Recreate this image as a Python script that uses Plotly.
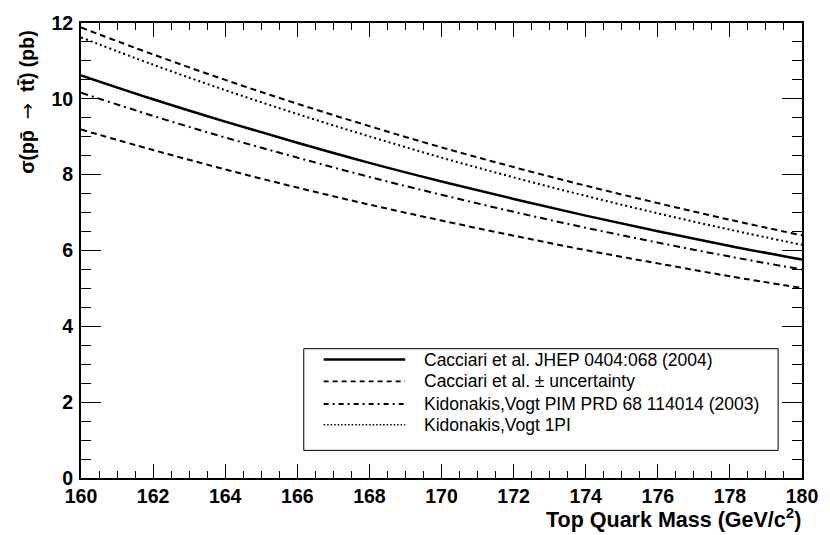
import plotly.graph_objects as go

# Top quark mass (GeV/c^2)
mass = [160, 162, 164, 166, 168, 170, 172, 174, 176, 178, 180]

# cross sections (pb)
cacciari_central = [10.62, 9.99, 9.40, 8.84, 8.31, 7.82, 7.36, 6.92, 6.51, 6.12, 5.76]
cacciari_upper = [11.88, 11.17, 10.50, 9.87, 9.28, 8.72, 8.20, 7.71, 7.25, 6.81, 6.40]
cacciari_lower = [9.19, 8.65, 8.14, 7.66, 7.21, 6.79, 6.39, 6.01, 5.66, 5.32, 5.01]
kidonakis_pim = [10.16, 9.55, 8.98, 8.45, 7.94, 7.47, 7.02, 6.60, 6.21, 5.84, 5.50]
kidonakis_1pi = [11.62, 10.90, 10.23, 9.60, 9.01, 8.45, 7.93, 7.44, 6.98, 6.55, 6.15]

legend_labels = [
    "Cacciari et al. JHEP 0404:068 (2004)",
    "Cacciari et al. ± uncertainty",
    "Kidonakis,Vogt PIM PRD 68 114014 (2003)",
    "Kidonakis,Vogt 1PI",
]

FONT = "Liberation Sans, Arial, Helvetica, sans-serif"
DASH = "6px,4px"
DASHDOT = "7px,4px,2px,4px"
DOT = "2px,3px"

fig = go.Figure()
series = [
    (cacciari_upper, DASH, 2),
    (cacciari_lower, DASH, 2),
    (kidonakis_1pi, DOT, 2),
    (kidonakis_pim, DASHDOT, 2),
    (cacciari_central, "solid", 2.5),
]
for ys, dash, w in series:
    fig.add_trace(go.Scatter(x=mass, y=ys, mode="lines", line_shape="spline",
                             line=dict(color="black", width=w, dash=dash),
                             showlegend=False, hoverinfo="skip"))

L, R, T, B = 81, 24, 17, 57
W, H = 830, 535
pw, ph = W - L - R, H - T - B

def px(xp):
    return (xp - L) / pw

def py(yp):
    return (H - B - yp) / ph

# Legend box drawn by hand (ROOT-style long samples)
shapes = [dict(type="rect", xref="paper", yref="paper",
               x0=px(305), x1=px(782), y0=py(450), y1=py(347),
               line=dict(color="black", width=1), fillcolor="white", layer="above")]
annotations = []
rows = [358, 380, 403, 424]
styles = [("solid", 2.5), ("5px,4px", 1.8), ("5px,4px,2px,4px", 1.8), ("1.5px,2px", 1.5)]
for yr, (dash, w), lab in zip(rows, styles, legend_labels):
    shapes.append(dict(type="line", xref="paper", yref="paper",
                       x0=px(325), x1=px(407), y0=py(yr), y1=py(yr),
                       line=dict(color="black", width=w, dash=dash), layer="above"))
    annotations.append(dict(xref="paper", yref="paper", x=px(424), y=py(yr),
                            xanchor="left", yanchor="middle", showarrow=False,
                            text=lab, font=dict(family=FONT, size=17.5, color="black")))

annotations.append(dict(xref="paper", yref="paper", x=px(807), y=py(535),
                        xanchor="right", yanchor="bottom", showarrow=False,
                        text="<b>Top Quark Mass (GeV/c<sup>2</sup>)</b>",
                        font=dict(family=FONT, size=21.5, color="black")))
annotations.append(dict(xref="paper", yref="paper", x=px(27), y=py(23),
                        xanchor="center", yanchor="top", showarrow=False, textangle=-90,
                        text=("<b>σ(pp\u0304\u00a0\u00a0</b>"
                              "<span style=\"font-family:'DejaVu Sans';font-weight:normal\">\u2192</span>"
                              "<b>\u00a0\u00a0tt\u0304) (pb)</b>"),
                        font=dict(family=FONT, size=19.5, color="black")))

fig.update_layout(
    width=W, height=H,
    margin=dict(l=L, r=R, t=T, b=B),
    paper_bgcolor="white", plot_bgcolor="white",
    font=dict(family=FONT, color="black"),
    shapes=shapes, annotations=annotations,
    xaxis=dict(range=[160, 180], dtick=2, tick0=160, ticks="inside", ticklen=14,
               tickwidth=1, tickcolor="black", showgrid=False, zeroline=False,
               showline=True, linecolor="black", linewidth=2, mirror="ticks",
               tickfont=dict(family=FONT, size=19.5, weight="bold"),
               ticklabelstandoff=0,
               minor=dict(dtick=0.5, ticks="inside", ticklen=7, tickwidth=1,
                          tickcolor="black", showgrid=False)),
    yaxis=dict(range=[0, 12], dtick=2, tick0=0, ticks="inside", ticklen=20,
               tickwidth=1, tickcolor="black", showgrid=False, zeroline=False,
               showline=True, linecolor="black", linewidth=2, mirror="ticks",
               tickfont=dict(family=FONT, size=19.5, weight="bold"),
               ticklabelstandoff=2,
               minor=dict(dtick=0.5, ticks="inside", ticklen=10, tickwidth=1,
                          tickcolor="black", showgrid=False)),
)

fig.write_html("out.html")
